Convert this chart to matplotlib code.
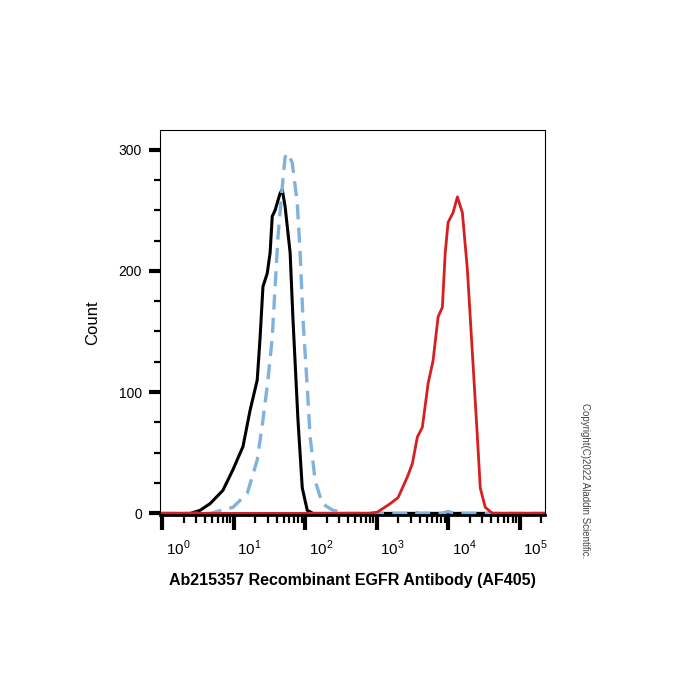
import numpy as np
import matplotlib
matplotlib.use("Agg")
from matplotlib import pyplot as plt
from matplotlib import transforms
from matplotlib.ticker import FixedLocator, NullFormatter

plt.rcParams['font.family'] = ['Liberation Sans', 'DejaVu Sans']
plt.rcParams['mathtext.fontset'] = 'custom'
plt.rcParams['mathtext.rm'] = 'Liberation Sans'

# log10 of fluorescence intensity, and counts
black_exp = [-0.03, 0.39, 0.53, 0.67, 0.85, 0.99, 1.13, 1.23, 1.33, 1.37, 1.41, 1.47, 1.51,
             1.54, 1.58, 1.65, 1.68, 1.72, 1.79, 1.83, 1.90, 1.96, 2.03, 2.11, 5.36]
black_cnt = [0, 0, 2.5, 8, 19, 36, 55, 85, 110, 145, 187, 198, 215,
             245, 250, 264, 267, 253, 215, 160, 77, 21, 2.5, 0, 0]

blue_exp = [-0.03, 0.67, 0.99, 1.19, 1.33, 1.41, 1.48, 1.54, 1.58, 1.62, 1.68, 1.72, 1.76,
            1.82, 1.89, 1.93, 1.97, 2.03, 2.07, 2.14, 2.24, 2.39, 2.59, 3.4, 3.5, 3.6,
            3.9, 4.0, 4.1, 5.36]
blue_cnt = [0, 0, 5, 16.5, 44, 77, 110, 145, 187, 228, 269, 294, 297,
            289, 256, 215, 160, 104, 63, 27, 8, 2.5, 0, 0, 1.5, 0,
            0, 1.5, 0, 0]

red_exp = [-0.03, 2.9, 3.01, 3.19, 3.30, 3.43, 3.50, 3.57, 3.64, 3.72, 3.79, 3.86, 3.92,
           3.96, 4.00, 4.07, 4.13, 4.20, 4.27, 4.34, 4.41, 4.45, 4.52, 4.62, 5.36]
red_cnt = [0, 0, 1, 8, 13, 30, 41, 63, 71, 107, 126, 162, 170,
           215, 240, 248, 261, 248, 201, 132, 63, 21, 5, 0, 0]

decades = [0, 1, 2, 3, 4, 5]
y_major = [0, 100, 200, 300]
y_minor = [25, 50, 75, 125, 150, 175, 225, 250, 275]

fig = plt.figure(figsize=(7, 7), dpi=100)
ax = fig.add_axes([0.2286, 0.264, 0.5504, 0.55])

ax.plot(10 ** np.array(black_exp), black_cnt, color='black', lw=2.2,
        solid_joinstyle='round')
ax.plot(10 ** np.array(blue_exp), blue_cnt, color='#7fb2de', lw=2.4,
        dashes=(4.5, 2.5))
ax.plot(10 ** np.array(red_exp), red_cnt, color='#d61f1f', lw=2.0,
        solid_joinstyle='round')

ax.set_xscale('log')
ax.set_xlim(10 ** -0.03, 10 ** 5.36)
ax.set_ylim(-1.5, 316)

ax.xaxis.set_major_locator(FixedLocator([10.0 ** d for d in decades]))
minors = [m * 10.0 ** d for d in range(0, 6) for m in range(2, 10)]
ax.xaxis.set_minor_locator(FixedLocator(minors))
ax.set_xticklabels([r'$10^{%d}$' % d for d in decades])
ax.xaxis.set_minor_formatter(NullFormatter())
ax.tick_params(axis='x', which='major', length=11, width=3, labelsize=11, pad=6)
ax.tick_params(axis='x', which='minor', length=6, width=1.6)
shift = transforms.ScaledTranslation(0.16, 0, fig.dpi_scale_trans)
for lab in ax.get_xticklabels():
    lab.set_transform(lab.get_transform() + shift)

ax.set_yticks(y_major)
ax.set_yticks(y_minor, minor=True)
ax.tick_params(axis='y', which='major', length=8, width=3, labelsize=10, pad=5)
ax.tick_params(axis='y', which='minor', length=4, width=1.6)

for side in ['top', 'right', 'left']:
    ax.spines[side].set_linewidth(0.8)
ax.spines['bottom'].set_linewidth(2.0)

ax.set_ylabel('Count', fontsize=12, labelpad=13)
ax.set_xlabel('Ab215357 Recombinant EGFR Antibody (AF405)', fontsize=11.5,
              fontweight='bold', labelpad=11)

fig.text(0.836, 0.314, 'Copyright(C)2022 Aladdin Scientific.', rotation=-90,
         fontsize=7, color='#444444', ha='center', va='center')

fig.savefig('out.png', dpi=100)
